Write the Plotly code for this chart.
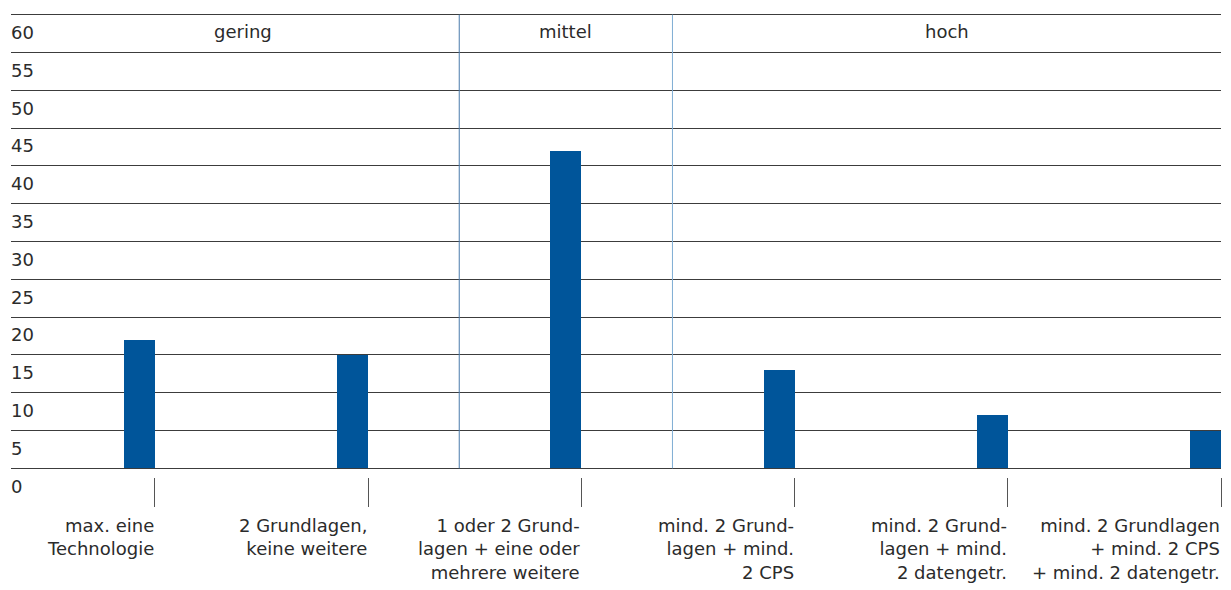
import plotly.graph_objects as go

# Daten
kategorien = [
    "max. eine<br>Technologie",
    "2 Grundlagen,<br>keine weitere",
    "1 oder 2 Grund-<br>lagen + eine oder<br>mehrere weitere",
    "mind. 2 Grund-<br>lagen + mind.<br>2 CPS",
    "mind. 2 Grund-<br>lagen + mind.<br>2 datengetr.",
    "mind. 2 Grundlagen<br>+ mind. 2 CPS<br>+ mind. 2 datengetr.",
]
werte = [17, 15, 42, 13, 7, 5]
gruppen = ["gering", "mittel", "hoch"]
y_ticks = list(range(0, 65, 5))

x_pos = list(range(len(kategorien)))
balken_breite = 0.1454
blau = "#00559a"
schrift = "DejaVu Sans"
text_farbe = "#2b2b2b"

fig = go.Figure()

fig.add_trace(go.Bar(
    x=x_pos,
    y=werte,
    width=balken_breite,
    offset=-balken_breite,
    marker_color=blau,
    marker_line_width=0,
    showlegend=False,
))

# Trennlinien zwischen den Gruppen (Mitte der Lücke zwischen Balken)
trenner = [1.5 - balken_breite / 2, 2.5 - balken_breite / 2]
trenner_farben = ["#4a7bab", "#7fadd4"]
for xt, farbe in zip(trenner, trenner_farben):
    fig.add_shape(type="line", x0=xt, x1=xt, y0=0, y1=60,
                  xref="x", yref="y", line=dict(color=farbe, width=1))

# Gruppentitel
gruppen_x = [(-0.6 + trenner[0]) / 2, (trenner[0] + trenner[1]) / 2, (trenner[1] + 5) / 2]
for name, gx in zip(gruppen, gruppen_x):
    fig.add_annotation(x=gx, y=57.8, xref="x", yref="y", text=name,
                       showarrow=False, font=dict(family=schrift, size=18, color=text_farbe))

# Kategorienbeschriftung, rechtsbündig am Tick
for xk, label in zip(x_pos, kategorien):
    fig.add_annotation(x=xk, y=0, xref="x", yref="paper", text=label,
                       showarrow=False, xanchor="right", yanchor="top", align="right",
                       yshift=-36, xshift=1,
                       font=dict(family=schrift, size=18, color=text_farbe))

# Seite hat 8px Rand -> Figur entsprechend kleiner
fig.update_layout(
    width=1223,
    height=582,
    margin=dict(l=3, r=10, t=4, b=113, autoexpand=False),
    plot_bgcolor="white",
    paper_bgcolor="white",
    bargap=0,
    font=dict(family=schrift, size=18, color=text_farbe),
    xaxis=dict(
        range=[-0.675, 5],
        tickvals=x_pos,
        showticklabels=False,
        ticks="outside",
        ticklen=29,
        tickcolor="#555555",
        tickwidth=1,
        showgrid=False,
        zeroline=False,
        showline=False,
        automargin=False,
    ),
    yaxis=dict(
        range=[-1.15, 60.35],
        tickvals=y_ticks,
        ticktext=[str(v) for v in y_ticks],
        ticklabelposition="inside",
        ticklabelshift=18,
        ticklabelstandoff=-3,
        ticklabeloverflow="allow",
        showgrid=True,
        gridcolor="#3c3c3c",
        gridwidth=1,
        zeroline=True,
        zerolinecolor="#3c3c3c",
        zerolinewidth=1,
        showline=False,
        automargin=False,
        tickfont=dict(family=schrift, size=18, color=text_farbe),
    ),
)

fig.write_html("out.html")
